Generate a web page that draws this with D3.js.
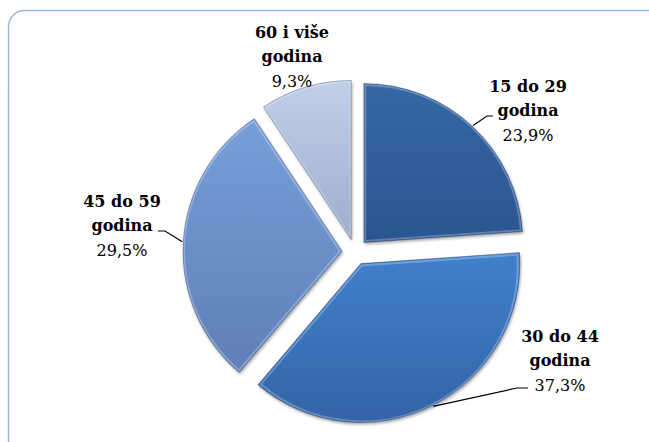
<!DOCTYPE html>
<html>
<head>
<meta charset="utf-8">
<script src="https://cdn.jsdelivr.net/npm/d3@7"></script>
<style>
  body { margin: 0; background: #fff; overflow: hidden; }
  svg { display: block; }
</style>
</head>
<body>
<script>
// data
var categories = ["15 do 29 godina", "30 do 44 godina", "45 do 59 godina", "60 i više godina"];
var nameLine1 = ["15 do 29", "30 do 44", "45 do 59", "60 i više"];
var nameLine2 = ["godina", "godina", "godina", "godina"];
var values = [23.9, 37.3, 29.5, 9.3];
var pctLabels = ["23,9%", "37,3%", "29,5%", "9,3%"];

function run() {
  var width = 649, height = 442;
  var cx = 355, cy = 252, radius = 159, explode = 13;

  var svg = d3.select("body")
    .append("svg")
    .attr("width", width)
    .attr("height", height);

  var defs = svg.append("defs");

  // colours per slice: top / bottom of gradient
  var fills = [
    ["#3667a5", "#2b5690"],
    ["#4180cc", "#3364a6"],
    ["#779fd9", "#5f7fb6"],
    ["#c0cfea", "#9eaecb"]
  ];
  fills.forEach(function (c, i) {
    var g = defs.append("linearGradient")
      .attr("id", "grad" + i)
      .attr("x1", 0).attr("y1", 0).attr("x2", 0).attr("y2", 1);
    g.append("stop").attr("offset", "0%").attr("stop-color", c[0]);
    g.append("stop").attr("offset", "100%").attr("stop-color", c[1]);
  });

  var shadow = defs.append("filter").attr("id", "shadow")
    .attr("x", "-10%").attr("y", "-10%").attr("width", "120%").attr("height", "120%");
  shadow.append("feDropShadow")
    .attr("dx", 1).attr("dy", 2).attr("stdDeviation", 1.5)
    .attr("flood-color", "#000").attr("flood-opacity", 0.35);

  // frame
  svg.append("rect")
    .attr("x", 8.5).attr("y", 10.5)
    .attr("width", 680).attr("height", 480)
    .attr("rx", 16).attr("ry", 16)
    .attr("fill", "none")
    .attr("stroke", "#9ab6dc")
    .attr("stroke-width", 1.5);

  var pie = d3.pie().sort(null).value(function (d) { return d; });
  var arcs = pie(values);

  var arc = d3.arc().innerRadius(0).outerRadius(radius);

  function offset(d) {
    var a = (d.startAngle + d.endAngle) / 2;
    return [Math.sin(a) * explode, -Math.cos(a) * explode];
  }

  var g = svg.append("g")
    .attr("transform", "translate(" + cx + "," + cy + ")");

  var slices = g.selectAll(".slice")
    .data(arcs)
    .enter().append("g")
    .attr("class", "slice")
    .attr("transform", function (d) {
      var o = offset(d);
      return "translate(" + o[0] + "," + o[1] + ")";
    });

  slices.append("path")
    .attr("d", arc)
    .attr("fill", function (d, i) { return "url(#grad" + i + ")"; })
    .attr("filter", "url(#shadow)");

  // bevel: light inner line + dark rim
  slices.append("path")
    .attr("d", d3.arc().innerRadius(0).outerRadius(radius - 3))
    .attr("transform", function (d) {
      var a = (d.startAngle + d.endAngle) / 2;
      return "translate(" + (Math.sin(a) * 2) + "," + (-Math.cos(a) * 2) + ")";
    })
    .attr("fill", "none")
    .attr("stroke", "rgba(255,255,255,0.25)")
    .attr("stroke-width", 2);
  slices.append("path")
    .attr("d", arc)
    .attr("fill", "none")
    .attr("stroke", "rgba(20,40,80,0.35)")
    .attr("stroke-width", 1);

  // label layout (positions only)
  var labelPos = [
    {x: 528, y: 92, elbow: [487, 116], end: [493, 116]},
    {x: 560, y: 342, elbow: [517, 388], end: [528, 388]},
    {x: 122, y: 207, elbow: [165, 231], end: [158, 231]},
    {x: 292, y: 38, elbow: null, end: null}
  ];
  var lineH = 24;

  // leader lines from the outer arc at mid-angle
  arcs.forEach(function (d, i) {
    var p = labelPos[i];
    if (!p.elbow) return;
    var a = (d.startAngle + d.endAngle) / 2;
    var o = offset(d);
    var sx = cx + o[0] + Math.sin(a) * (radius + 1);
    var sy = cy + o[1] - Math.cos(a) * (radius + 1);
    svg.append("path")
      .attr("d", d3.line()([[sx, sy], p.elbow, p.end]))
      .attr("fill", "none")
      .attr("stroke", "#000")
      .attr("stroke-width", 1.2);
  });

  var labels = svg.selectAll(".lbl")
    .data(arcs)
    .enter().append("text")
    .attr("class", "lbl")
    .attr("text-anchor", "middle")
    .attr("font-family", "'DejaVu Serif', serif")
    .attr("font-size", 16)
    .attr("fill", "#000");

  labels.append("tspan")
    .attr("x", function (d, i) { return labelPos[i].x; })
    .attr("y", function (d, i) { return labelPos[i].y; })
    .attr("font-weight", "bold")
    .text(function (d, i) { return nameLine1[i]; });
  labels.append("tspan")
    .attr("x", function (d, i) { return labelPos[i].x; })
    .attr("y", function (d, i) { return labelPos[i].y + lineH; })
    .attr("font-weight", "bold")
    .text(function (d, i) { return nameLine2[i]; });
  labels.append("tspan")
    .attr("x", function (d, i) { return labelPos[i].x; })
    .attr("y", function (d, i) { return labelPos[i].y + lineH * 2 + 1; })
    .text(function (d, i) { return pctLabels[i]; });
}

run();
</script>
</body>
</html>
